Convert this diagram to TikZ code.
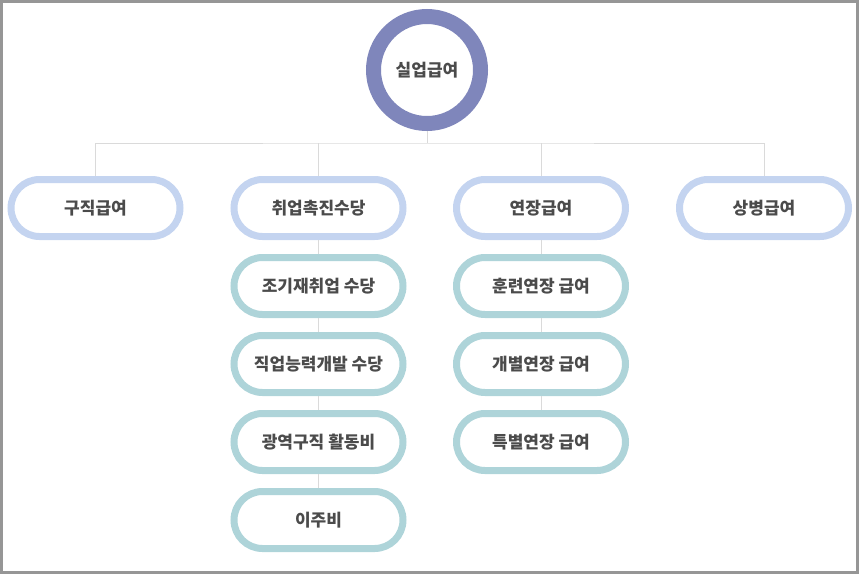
\documentclass[tikz,border=0pt]{standalone}
\usepackage{fontspec}
\setmainfont{Noto Sans CJK KR}
\usepackage{tikz}
\usetikzlibrary{
    positioning,
    calc
}
\definecolor{ringPurple}{RGB}{127, 134, 187}
\definecolor{ringBlue}{RGB}{196, 212, 240}
\definecolor{ringTeal}{RGB}{174, 212, 217}
\definecolor{textGray}{RGB}{75, 75, 75}
\definecolor{lineGray}{RGB}{218, 218, 218}
\definecolor{frameGray}{RGB}{150, 150, 150}

\tikzset{
    topbox/.style={circle, draw=ringPurple, line width=15pt, minimum size=107pt,
        fill=white, text=textGray, font=\fontsize{17}{20}\selectfont\bfseries},
    mainbox/.style={rounded corners=28.5pt, draw=ringBlue, line width=7pt,
        minimum width=169pt, minimum height=57pt, fill=white, text=textGray,
        font=\fontsize{17}{20}\selectfont\bfseries},
    subbox/.style={mainbox, draw=ringTeal},
    link/.style={draw=lineGray, line width=1pt}
}

\begin{document}
\begin{tikzpicture}[x=1pt, y=-1pt, node distance=14pt]
            \useasboundingbox (0,0) rectangle (862,579);
            \draw[frameGray, line width=3pt] (1.5,1.5) rectangle (857.5,572.5);

            % Top
            \node[topbox] (benefit) at (427,70) {실업급여};

            % First level
            \node[mainbox] (jobseek) at (95.5,208) {구직급여};
            \node[mainbox] (promote) at (318.5,208) {취업촉진수당};
            \node[mainbox] (extend) at (541,208) {연장급여};
            \node[mainbox] (sick) at (764,208) {상병급여};

            % Second level
            \node[subbox, below=of promote] (early) {조기재취업 수당};
            \node[subbox, below=of early] (skill) {직업능력개발 수당};
            \node[subbox, below=of skill] (wide) {광역구직 활동비};
            \node[subbox, below=of wide] (move) {이주비};

            \node[subbox, below=of extend] (train) {훈련연장 급여};
            \node[subbox, below=of train] (single) {개별연장 급여};
            \node[subbox, below=of single] (special) {특별연장 급여};

            % Connectors
            \coordinate (split) at ($(benefit.south)+(0,12)$);
            \draw[link] (benefit.south) -- (split);
            \draw[link] (jobseek.north) |- (split) -| (sick.north);
            \draw[link] (promote.north) -- (promote.north |- split);
            \draw[link] (extend.north) -- (extend.north |- split);
            \draw[link] (promote) -- (early) -- (skill) -- (wide) -- (move);
            \draw[link] (extend) -- (train) -- (single) -- (special);
        \end{tikzpicture}
\end{document}
